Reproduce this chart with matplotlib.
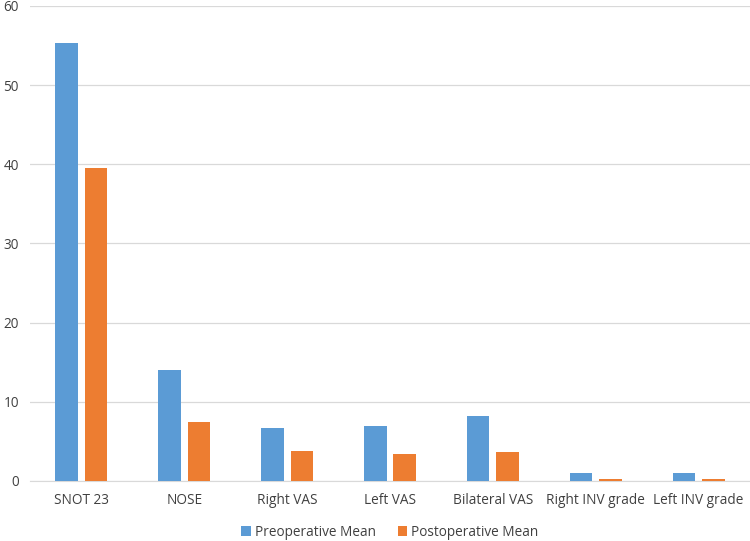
import matplotlib.pyplot as plt
import numpy as np

categories = ["SNOT 23", "NOSE", "Right VAS", "Left VAS", "Bilateral VAS",
              "Right INV grade", "Left INV grade"]
pre_mean = [55.3, 14.0, 6.65, 7.0, 8.25, 0.97, 0.97]
post_mean = [39.5, 7.4, 3.8, 3.45, 3.66, 0.25, 0.25]

plt.rcParams['font.family'] = ['Open Sans', 'DejaVu Sans']

fig = plt.figure(figsize=(7.5, 5.41), dpi=100)
ax = fig.add_axes([0.04, 0.111, 0.96, 0.878])

x = np.arange(len(categories))
w = 0.22
ax.bar(x - 0.143, pre_mean, width=w, color='#5B9BD5', label='Preoperative Mean', zorder=3)
ax.bar(x + 0.143, post_mean, width=w, color='#ED7D31', label='Postoperative Mean', zorder=3)

ax.set_xlim(-0.5, len(categories) - 0.5)
ax.set_ylim(0, 60)
ax.set_yticks(range(0, 61, 10))
ax.set_xticks(x)
ax.set_xticklabels(categories)
ax.tick_params(axis='both', length=0, labelsize=9.8, colors='#404040')
ax.tick_params(axis='y', pad=8)
ax.tick_params(axis='x', pad=9)
ax.grid(axis='y', color='#D9D9D9', linewidth=0.9, zorder=0)
for s in ['top', 'right', 'left']:
    ax.spines[s].set_visible(False)
ax.spines['bottom'].set_color('#D9D9D9')

ax.legend(loc='lower center', bbox_to_anchor=(0.5, -0.15), ncol=2, frameon=False,
          fontsize=9.8, handlelength=0.7, handleheight=0.7, handletextpad=0.3,
          columnspacing=1.6, labelcolor='#404040')

fig.savefig('out.png', dpi=100)
